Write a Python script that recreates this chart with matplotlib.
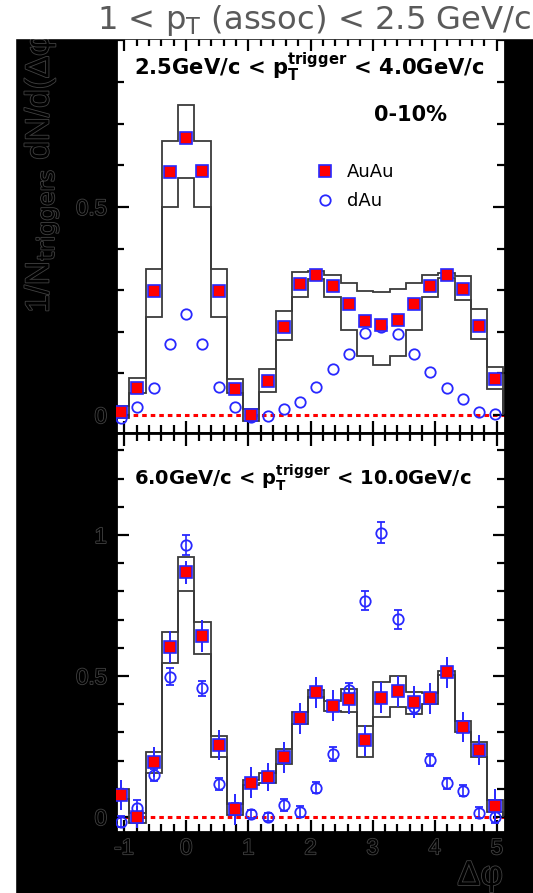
import numpy as np
import matplotlib
matplotlib.use('Agg')
import matplotlib.pyplot as plt
import matplotlib.patheffects as pe
from matplotlib.ticker import MultipleLocator, FuncFormatter
from matplotlib.patches import Rectangle

plt.rcParams['font.family'] = ['Liberation Sans', 'DejaVu Sans']
plt.rcParams['mathtext.fontset'] = 'custom'
plt.rcParams['mathtext.rm'] = 'DejaVu Sans'
plt.rcParams['mathtext.bf'] = 'DejaVu Sans:bold'
plt.rcParams['mathtext.it'] = 'DejaVu Sans:italic'
plt.rcParams['axes.unicode_minus'] = False

# bin index -> delta phi = k*pi/12, k = -4..19
k = np.arange(-4, 20)

# 2.5 < pT trig < 4.0
top_auau = [0.008, 0.064, 0.299, 0.585, 0.665, 0.587, 0.299, 0.063, 0.0, 0.081, 0.211, 0.314,
            0.337, 0.311, 0.266, 0.226, 0.216, 0.228, 0.266, 0.311, 0.336, 0.303, 0.215, 0.086]
top_dau = [-0.008, 0.020, 0.066, 0.172, 0.244, 0.172, 0.068, 0.019, -0.004, -0.002, 0.014, 0.032,
           0.068, 0.110, 0.147, 0.198, 0.212, 0.195, 0.148, 0.104, 0.064, 0.038, 0.007, 0.002]
top_sys_hi = [0.022, 0.088, 0.351, 0.659, 0.745, 0.659, 0.351, 0.086, 0.014, 0.110, 0.251, 0.343,
              0.346, 0.337, 0.318, 0.298, 0.295, 0.302, 0.318, 0.337, 0.342, 0.335, 0.254, 0.116]
top_sys_lo = [-0.006, 0.052, 0.236, 0.499, 0.569, 0.499, 0.236, 0.052, -0.014, 0.056, 0.180, 0.284,
              0.327, 0.284, 0.204, 0.142, 0.120, 0.142, 0.204, 0.284, 0.329, 0.276, 0.182, 0.062]

# 6.0 < pT trig < 10.0
bot_auau = [0.078, 0.0, 0.196, 0.604, 0.868, 0.642, 0.255, 0.027, 0.122, 0.141, 0.212, 0.350,
            0.442, 0.394, 0.418, 0.273, 0.423, 0.447, 0.407, 0.421, 0.513, 0.320, 0.238, 0.040]
bot_auau_err = [0.053, 0.040, 0.053, 0.057, 0.041, 0.057, 0.053, 0.055, 0.055, 0.050, 0.054, 0.056,
                0.055, 0.055, 0.053, 0.055, 0.055, 0.055, 0.056, 0.056, 0.055, 0.054, 0.054, 0.058]
bot_dau = [-0.017, 0.031, 0.149, 0.497, 0.965, 0.456, 0.117, 0.030, 0.010, 0.001, 0.043, 0.019,
           0.104, 0.223, 0.450, 0.767, 1.009, 0.701, 0.390, 0.202, 0.119, 0.093, 0.015, 0.0]
bot_dau_err = [0.020, 0.030, 0.020, 0.030, 0.035, 0.025, 0.020, 0.020, 0.015, 0.015, 0.020, 0.020,
               0.020, 0.025, 0.025, 0.033, 0.037, 0.034, 0.025, 0.020, 0.020, 0.020, 0.020, 0.020]
bot_sys_hi = [0.098, 0.015, 0.232, 0.655, 0.923, 0.693, 0.287, 0.045, 0.130, 0.158, 0.240, 0.371,
              0.450, 0.412, 0.454, 0.323, 0.478, 0.500, 0.444, 0.439, 0.519, 0.340, 0.265, 0.060]
bot_sys_lo = [0.065, -0.022, 0.155, 0.545, 0.803, 0.580, 0.212, 0.007, 0.115, 0.120, 0.188, 0.330,
              0.424, 0.376, 0.373, 0.212, 0.356, 0.389, 0.365, 0.401, 0.505, 0.302, 0.214, 0.019]

dphi = k * np.pi / 12
edges = np.append(dphi - np.pi / 24, dphi[-1] + np.pi / 24)

red = '#ff0000'
blue = '#2828ff'
outline = [pe.Stroke(linewidth=1.2, foreground='#424242'), pe.Normal()]

fig = plt.figure(figsize=(5.33, 8.93), dpi=100, facecolor='black')
ax1 = fig.add_axes([116/533, 1-433/893, 389/533, 395/893])
ax2 = fig.add_axes([116/533, 1-832/893, 389/533, 399/893])


def style(ax, ylim):
    ax.set_xlim(-1.13, 5.13)
    ax.set_ylim(*ylim)
    ax.xaxis.set_major_locator(MultipleLocator(1))
    ax.xaxis.set_minor_locator(MultipleLocator(0.2))
    ax.yaxis.set_major_locator(MultipleLocator(0.5))
    ax.yaxis.set_minor_locator(MultipleLocator(0.1))
    ax.yaxis.set_major_formatter(FuncFormatter(lambda v, p: '%g' % v))
    ax.xaxis.set_major_formatter(FuncFormatter(lambda v, p: '%g' % v))
    ax.tick_params(which='both', direction='in', top=True, right=True, width=1.6,
                   labelsize=16, colors='black')
    ax.tick_params(which='major', length=9)
    ax.tick_params(which='minor', length=5.5)
    ax.tick_params(axis='y', pad=6.5)
    ax.tick_params(axis='x', pad=4.5)
    for s in ax.spines.values():
        s.set_linewidth(2)
    ax.axhline(0, color=red, lw=2.2, ls=(0, (1.5, 1.3)), zorder=1.5)


style(ax1, (-0.043, 0.906))
style(ax2, (-0.053, 1.362))
ax1.tick_params(labelbottom=False)

# systematic bands
for ax, hi, lo in [(ax1, top_sys_hi, top_sys_lo), (ax2, bot_sys_hi, bot_sys_lo)]:
    ax.stairs(hi, edges, color='#3a3a3a', lw=1.3, zorder=2)
    ax.stairs(lo, edges, color='#3a3a3a', lw=1.3, zorder=2)

# top panel points
ax1.plot(dphi, top_dau, 'o', ms=7.5, mfc='none', mec=blue, mew=1.3, zorder=3, label='dAu')
ax1.plot(dphi, top_auau, 's', ms=9, mfc=red, mec=blue, mew=1.2, zorder=4, label='AuAu')

# bottom panel points
ax2.errorbar(dphi, bot_dau, yerr=bot_dau_err, fmt='o', ms=7.5, mfc='none', mec=blue, mew=1.3,
             ecolor=blue, elinewidth=1.2, capsize=3, capthick=1.2, zorder=3)
ax2.errorbar(dphi, bot_auau, yerr=bot_auau_err, fmt='s', ms=9, mfc=red, mec=blue, mew=1.2,
             ecolor=blue, elinewidth=1.4, capsize=0, zorder=4)

h, l = ax1.get_legend_handles_labels()
ax1.legend(h[::-1], l[::-1], loc='upper left', bbox_to_anchor=(0.514, 0.684), frameon=False,
           prop={'family': 'DejaVu Sans', 'size': 13}, borderpad=0, handlelength=1.0,
           handletextpad=0.7, labelspacing=0.62, borderaxespad=0)

lab_font = {'family': 'DejaVu Sans', 'weight': 'bold'}
ax1.text(0.046, 0.906, r'2.5GeV/c < p$_\mathbf{T}^\mathbf{trigger}$ < 4.0GeV/c',
         transform=ax1.transAxes, fontsize=15.2, fontdict=lab_font, va='baseline')
ax1.text(0.758, 0.79, '0-10%', transform=ax1.transAxes, fontsize=15, fontdict=lab_font,
         ha='center', va='baseline')
ax2.text(0.046, 0.870, r'6.0GeV/c < p$_\mathbf{T}^\mathbf{trigger}$ < 10.0GeV/c',
         transform=ax2.transAxes, fontsize=14, fontdict=lab_font, va='baseline')

# outlined dark axis texts on the black frame
fig.text(42/533, 1-313/893, r'1/N$_{\rm triggers}$ dN/d(Δφ)', rotation=90, fontsize=24,
         color='black', ha='center', va='bottom', zorder=1, path_effects=outline)
fig.text(503/533, 1-885/893, 'Δφ', fontsize=25, color='black', ha='right', va='baseline',
         zorder=1, path_effects=outline)

# white strips
fig.add_artist(Rectangle((0, 1-38/893), 1, 38/893, transform=fig.transFigure,
                         color='white', zorder=2))
fig.add_artist(Rectangle((0, 0), 15/533, 1, transform=fig.transFigure, color='white', zorder=2))
fig.text(531/533, 1-29/893, r'1 < p$_\mathrm{T}$ (assoc) < 2.5 GeV/c', fontsize=23.2,
         family='DejaVu Sans', color='#5a5a5a', ha='right', va='baseline', zorder=3)

fig.canvas.draw()
for ax in (ax1, ax2):
    for lbl in ax.get_xticklabels() + ax.get_yticklabels():
        lbl.set_path_effects(outline)

fig.savefig('out.png', dpi=100, facecolor=fig.get_facecolor())
